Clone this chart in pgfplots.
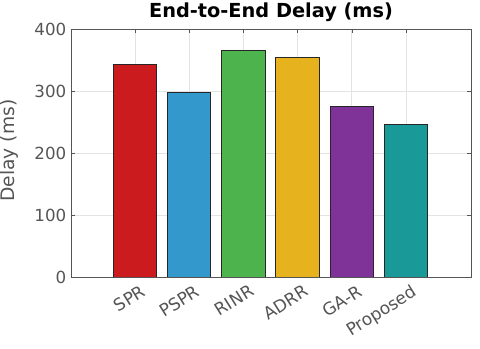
\documentclass[border=0pt]{standalone}
\usepackage{fontspec}
\setmainfont{DejaVu Sans}
\usepackage{pgfplots}
\pgfplotsset{compat=1.18}

\definecolor{cRed}{RGB}{204,27,30}
\definecolor{cBlue}{RGB}{51,153,204}
\definecolor{cGreen}{RGB}{77,179,77}
\definecolor{cYellow}{RGB}{230,178,30}
\definecolor{cPurple}{RGB}{127,51,153}
\definecolor{cTeal}{RGB}{26,153,153}
\definecolor{axgray}{RGB}{85,85,85}

\begin{document}
\begin{tikzpicture}
\begin{axis}[
ybar,
bar shift=0pt,
bar width=0.8,
width=300pt,
height=186pt,
scale only axis,
xmin=-0.18, xmax=7.2,
ymin=0, ymax=400,
xtick={1,2,3,4,5,6},
xticklabels={SPR,PSPR,RINR,ADRR,GA-R,Proposed},
x tick label style={rotate=32, anchor=north east, font=\fontsize{12.8}{14}\selectfont, text=axgray, xshift=4pt, yshift=-3pt},
ytick={0,100,200,300,400},
y tick label style={font=\fontsize{12.5}{14}\selectfont, text=axgray},
/pgf/number format/assume math mode=true,
ylabel={Delay (ms)},
ylabel style={at={(axis description cs:-0.155,0.51)}, anchor=center, font=\fontsize{14}{16}\selectfont, text=axgray},
title={\textbf{End-to-End Delay (ms)}},
title style={at={(axis description cs:0.5,1)}, anchor=base, yshift=2.25pt, font=\fontsize{14.5}{16}\selectfont},
grid=major,
major grid style={gray!22, line width=0.6pt},
axis line style={axgray, line width=0.6pt},
tick style={axgray},
tick align=inside,
major tick length=3pt,
every axis plot/.append style={draw=black!85, line width=0.7pt},
]
\addplot[fill=cRed] coordinates {(1,343)};
\addplot[fill=cBlue] coordinates {(2,298)};
\addplot[fill=cGreen] coordinates {(3,366)};
\addplot[fill=cYellow] coordinates {(4,354)};
\addplot[fill=cPurple] coordinates {(5,275)};
\addplot[fill=cTeal] coordinates {(6,246)};
\end{axis}
\pgfresetboundingbox
\useasboundingbox (-53.25pt,-54pt) rectangle (306.75pt,207.75pt);
\end{tikzpicture}
\end{document}
